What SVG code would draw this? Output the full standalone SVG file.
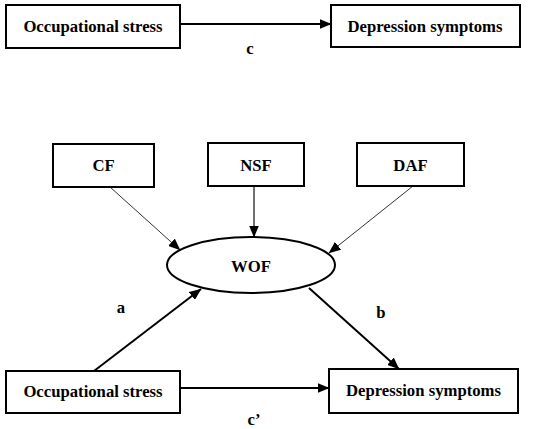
<svg xmlns="http://www.w3.org/2000/svg" width="536" height="429" viewBox="0 0 536 429">
<style>
.box{fill:#fff;stroke:#000;stroke-width:2}
.t{font-family:"Liberation Serif","Times New Roman",serif;font-weight:bold;font-size:16.7px;fill:#000;text-anchor:middle}
.c{fill:none;stroke:#000;stroke-width:2}
.thin{fill:none;stroke:#333;stroke-width:1}
.mid{fill:none;stroke:#333;stroke-width:1.4}
</style>
<defs>
<marker id="ah" markerUnits="userSpaceOnUse" markerWidth="12" markerHeight="10" viewBox="0 0 12 10" refX="11.5" refY="5" orient="auto">
<path d="M0,0 L12,5 L0,10 Z" fill="#000"/>
</marker>
</defs>
<rect width="536" height="429" fill="#fff"/>
<g id="connectors">
<line class="c" x1="180" y1="24" x2="331" y2="24" marker-end="url(#ah)"/>
<line class="thin" x1="110" y1="187" x2="180" y2="250" marker-end="url(#ah)"/>
<line class="mid" x1="254" y1="186" x2="254" y2="237" marker-end="url(#ah)"/>
<line class="thin" x1="413" y1="186" x2="329" y2="253" marker-end="url(#ah)"/>
<line class="c" x1="94" y1="371" x2="201" y2="289" marker-end="url(#ah)"/>
<line class="c" x1="309" y1="288" x2="399" y2="369" marker-end="url(#ah)"/>
<line class="c" x1="180" y1="388" x2="329" y2="388" marker-end="url(#ah)"/>
</g>
<g id="labels">
<text class="t" x="250" y="54">c</text>
<text class="t" x="121" y="313">a</text>
<text class="t" x="381" y="318">b</text>
<text class="t" x="254" y="425">c’</text>
</g>
<g id="os-top"><rect class="box" x="6" y="5" width="174" height="43"/><text class="t" x="93" y="32">Occupational stress</text></g>
<g id="ds-top"><rect class="box" x="331" y="5" width="189" height="42"/><text class="t" x="425" y="32">Depression symptoms</text></g>
<g id="cf"><rect class="box" x="53" y="144" width="101" height="43"/><text class="t" x="103.5" y="171">CF</text></g>
<g id="nsf"><rect class="box" x="208" y="143" width="96" height="43"/><text class="t" x="256" y="171">NSF</text></g>
<g id="daf"><rect class="box" x="357" y="143" width="107" height="43"/><text class="t" x="410.5" y="171">DAF</text></g>
<g id="wof"><ellipse class="box" cx="251" cy="265" rx="84" ry="28"/><text class="t" x="251" y="272">WOF</text></g>
<g id="os-bottom"><rect class="box" x="6" y="371" width="174" height="42"/><text class="t" x="93" y="397">Occupational stress</text></g>
<g id="ds-bottom"><rect class="box" x="329" y="369" width="189" height="44"/><text class="t" x="423.5" y="396">Depression symptoms</text></g>
</svg>
